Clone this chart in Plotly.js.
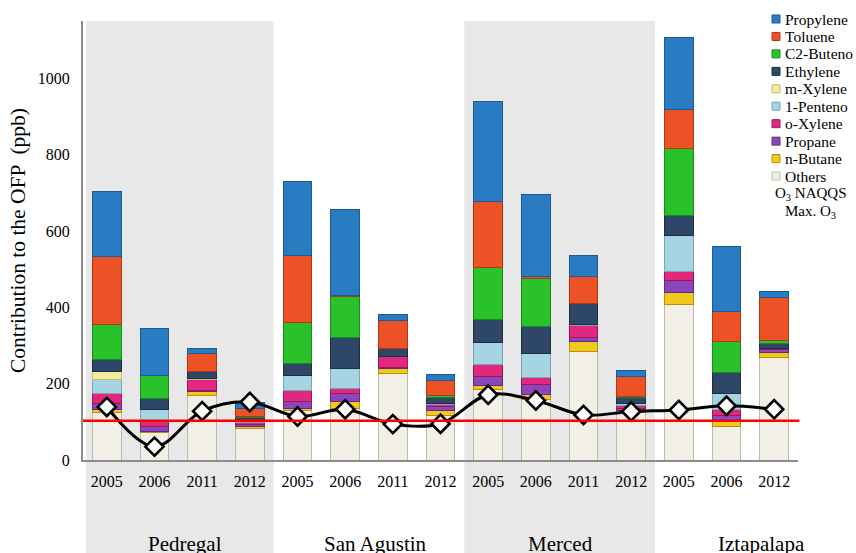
<!DOCTYPE html>
<html>
<head>
<meta charset="utf-8">
<script src="https://cdn.plot.ly/plotly-3.0.1.min.js"></script>
<style>
  html, body { margin: 0; padding: 0; background: #ffffff; }
  #chart { width: 856px; height: 553px; }
</style>
</head>
<body>
<div id="chart"></div>
<script>
// Ozone-forming potential (OFP) by compound, per monitoring site and year (ppb)
const sites = ['Pedregal', 'San Agustin', 'Merced', 'Iztapalapa'];
const years = ['2005', '2006', '2011', '2012',
               '2005', '2006', '2011', '2012',
               '2005', '2006', '2011', '2012',
               '2005', '2006', '2012'];

// stacked from the bottom up
const others    = [125, 73, 168, 82, 130, 136, 226, 116, 186, 158, 285, 125, 408, 88, 268];
const nButane   = [8, 2, 12, 7, 6, 17, 15, 14, 9, 13, 26, 5, 32, 13, 13];
const propane   = [14, 13, 2, 5, 16, 22, 2, 9, 24, 26, 9, 5, 31, 15, 8];
const oXylene   = [28, 15, 28, 3, 30, 12, 27, 7, 31, 18, 33, 9, 24, 16, 3];
const pentene1  = [37, 28, 2, 3, 40, 52, 0, 3, 57, 63, 3, 3, 94, 43, 0];
const mXylene   = [20, 2, 2, 2, 0, 0, 2, 0, 0, 0, 0, 0, 0, 0, 0];
const ethylene  = [31, 27, 17, 10, 31, 81, 19, 15, 61, 73, 55, 17, 51, 53, 14];
const c2Butene  = [92, 61, 2, 3, 107, 108, 0, 5, 136, 124, 0, 3, 175, 83, 6];
const toluene   = [178, 0, 47, 20, 175, 3, 75, 40, 174, 6, 70, 53, 103, 77, 114];
const propylene = [170, 124, 11, 15, 195, 225, 16, 16, 262, 215, 54, 14, 190, 170, 15];

// maximum measured ozone and the air-quality standard (ppb)
const maxO3 = [139, 35, 128, 152, 114, 133, 94, 95, 171, 156, 118, 127, 131, 142, 133];
const naqqsO3 = 103;

const FONT = 'Liberation Serif';
const xIdx = years.map((_, i) => i);
const X_RANGE = [-0.5, years.length - 0.5];

// series list, bottom of the stack first
const series = [
  { name: 'Others',    values: others,    color: '#f1efe6', edge: '#bdb9ae' },
  { name: 'n-Butane',  values: nButane,   color: '#f2c81c', edge: '#b58f10' },
  { name: 'Propane',   values: propane,   color: '#8a46ba', edge: '#5e2a85' },
  { name: 'o-Xylene',  values: oXylene,   color: '#e2287e', edge: '#a31656' },
  { name: '1-Penteno', values: pentene1,  color: '#a6d4e3', edge: '#7aa6b5' },
  { name: 'm-Xylene',  values: mXylene,   color: '#f0eb9e', edge: '#c2bd72' },
  { name: 'Ethylene',  values: ethylene,  color: '#2e4769', edge: '#1c2d45' },
  { name: 'C2-Buteno', values: c2Butene,  color: '#2ac22a', edge: '#1a8a1a' },
  { name: 'Toluene',   values: toluene,   color: '#ec5226', edge: '#b13712' },
  { name: 'Propylene', values: propylene, color: '#2a7cc2', edge: '#1c5a90' }
];

const traces = series.map(s => ({
  type: 'bar',
  name: s.name,
  x: xIdx,
  y: s.values,
  marker: { color: s.color, line: { color: s.edge, width: 1 } },
  showlegend: false,
  hoverinfo: 'name+y'
}));

traces.push({
  type: 'scatter',
  mode: 'lines+markers',
  name: 'Max. O3',
  x: xIdx,
  y: maxO3,
  line: { color: '#000000', width: 3, shape: 'spline' },
  marker: { symbol: 'diamond', size: 14, color: '#ffffff', line: { color: '#000000', width: 2.6 } },
  showlegend: false
});

// pixel -> paper helpers for the hand-built legend and labels
const W = 856, H = 553, ML = 83, MR = 58, MT = 21, MB = 93;
const PW = W - ML - MR, PH = H - MT - MB;
const px = X => (X - ML) / PW;
const py = Y => (H - MB - Y) / PH;
const catToPaper = c => (c - X_RANGE[0]) / (X_RANGE[1] - X_RANGE[0]);

const shapes = [
  // shaded site bands (Pedregal, Merced), running down through the labels
  { type: 'rect', xref: 'paper', yref: 'paper', layer: 'below',
    x0: catToPaper(-0.44), x1: catToPaper(3.5), y0: py(H), y1: 1,
    fillcolor: '#e8e8e8', line: { width: 0 } },
  { type: 'rect', xref: 'paper', yref: 'paper', layer: 'below',
    x0: catToPaper(7.5), x1: catToPaper(11.5), y0: py(H), y1: 1,
    fillcolor: '#e8e8e8', line: { width: 0 } },
  // ozone standard
  { type: 'line', xref: 'paper', yref: 'y', x0: 0, x1: 1.002,
    y0: naqqsO3, y1: naqqsO3, line: { color: '#ff0000', width: 2.5 } }
];

const annotations = [];

// site names under the years
const siteLabelX = [1.64, 5.63, 9.51, 13.74];
sites.forEach((s, i) => annotations.push({
  xref: 'x', yref: 'paper', x: siteLabelX[i], y: py(544),
  text: s, showarrow: false, xanchor: 'center', yanchor: 'middle',
  font: { family: FONT, size: 21, color: '#000000' }
}));

// legend: top of the stack first
const legendOrder = series.slice().reverse();
const ROW0 = 19, ROW = 17.45;
legendOrder.forEach((s, i) => {
  const yc = ROW0 + ROW * i;
  shapes.push({
    type: 'rect', xref: 'paper', yref: 'paper',
    x0: px(772), x1: px(780), y0: py(yc + 4), y1: py(yc - 4),
    fillcolor: s.color, line: { color: s.edge, width: 1 }
  });
  annotations.push({
    xref: 'paper', yref: 'paper', x: px(783), y: py(yc),
    text: s.name, showarrow: false, xanchor: 'left', yanchor: 'middle',
    font: { family: FONT, size: 15.5, color: '#000000' }
  });
});
annotations.push({
  xref: 'paper', yref: 'paper', x: px(811), y: py(ROW0 + ROW * 10),
  text: 'O<sub>3</sub> NAQQS', showarrow: false, xanchor: 'center', yanchor: 'middle',
  font: { family: FONT, size: 15, color: '#000000' }
});
annotations.push({
  xref: 'paper', yref: 'paper', x: px(811), y: py(ROW0 + ROW * 11 + 1),
  text: 'Max. O<sub>3</sub>', showarrow: false, xanchor: 'center', yanchor: 'middle',
  font: { family: FONT, size: 15, color: '#000000' }
});

const layout = {
  width: W, height: H,
  margin: { l: ML, r: MR, t: MT, b: MB, autoexpand: false },
  paper_bgcolor: '#ffffff',
  plot_bgcolor: 'rgba(0,0,0,0)',
  barmode: 'stack',
  bargap: 0.4,
  showlegend: false,
  font: { family: FONT, size: 16, color: '#000000' },
  xaxis: {
    range: X_RANGE,
    tickvals: xIdx, ticktext: years,
    showline: true, linecolor: '#8c8c8c', linewidth: 2,
    showgrid: false, zeroline: false, ticks: '',
    ticklabelstandoff: 6,
    tickfont: { family: FONT, size: 16, color: '#000000' },
    fixedrange: true
  },
  yaxis: {
    range: [0, 1150],
    tickvals: [0, 200, 400, 600, 800, 1000],
    showline: true, linecolor: '#8c8c8c', linewidth: 2,
    showgrid: false, zeroline: false, ticks: '',
    ticklabelstandoff: 8,
    tickfont: { family: FONT, size: 16, color: '#000000' },
    title: { text: 'Contribution to the OFP \u00a0(ppb)', standoff: 6,
             font: { family: FONT, size: 21.5, color: '#000000' } },
    fixedrange: true
  },
  shapes: shapes,
  annotations: annotations
};

Plotly.newPlot('chart', traces, layout, { displayModeBar: false, staticPlot: true });
</script>
</body>
</html>
